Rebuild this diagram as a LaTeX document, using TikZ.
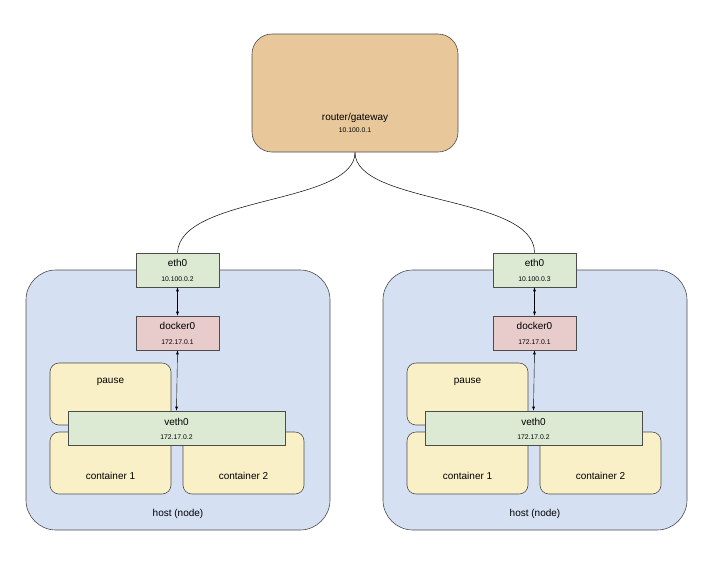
\documentclass[tikz,border=0pt]{standalone}
\usepackage{fontspec}
\setmainfont{Liberation Sans}
\begin{document}
\begin{tikzpicture}[x=1pt,y=-1pt,
 box/.style={draw=black!70,line width=0.6pt,align=center,inner sep=0pt},
 big/.style={font=\fontsize{10}{11}\selectfont},
 ip/.style={font=\fontsize{6.8}{8}\selectfont},
 arr/.style={<->,>={latex},line width=0.4pt,shorten <=0pt,shorten >=0pt}]
\definecolor{router}{HTML}{E8C89A}
\definecolor{hostc}{HTML}{D5E0F2}
\definecolor{ethc}{HTML}{DCEAD4}
\definecolor{dockc}{HTML}{E8CBCB}
\definecolor{ctc}{HTML}{FAF0C8}
\useasboundingbox (0,0) rectangle (723,566);
\node[box,fill=router,rounded corners=20pt,minimum width=206pt,minimum height=118pt] (rt) at (355,93) {};
\node[big] (rtl) at (355,118) {router/gateway};
\node[ip] (rtip) at (355,130) {10.100.0.1};
\foreach \o/\n/\e in {0/L/10.100.0.2,357/R/10.100.0.3}{
 \begin{scope}[xshift=\o]
 \node[box,fill=hostc,rounded corners=30pt,minimum width=304pt,minimum height=260pt] (host\n) at (178,400) {};
 \node[big] (hl\n) at (178,514) {host (node)};
 \node[box,fill=ctc,rounded corners=9pt,minimum width=121pt,minimum height=62pt] (pause\n) at (110.5,394) {};
 \node[big] (pl\n) at (110.5,382) {pause};
 \node[box,fill=ctc,rounded corners=9pt,minimum width=121pt,minimum height=62pt] (c1\n) at (110.5,463) {};
 \node[big] (c1l\n) at (110.5,476) {container 1};
 \node[box,fill=ctc,rounded corners=9pt,minimum width=121pt,minimum height=62pt] (c2\n) at (243.5,463) {};
 \node[big] (c2l\n) at (243.5,476) {container 2};
 \node[box,fill=ethc,minimum width=217pt,minimum height=34pt] (veth\n) at (176.5,428) {};
 \node[big] (vl\n) at (176.5,422) {veth0};
 \node[ip] (vip\n) at (176.5,437) {172.17.0.2};
 \node[box,fill=ethc,minimum width=83pt,minimum height=34pt] (eth\n) at (177.5,270) {};
 \node[big] (el\n) at (177.5,263) {eth0};
 \node[ip] (eip\n) at (177.5,279) {\e};
 \node[box,fill=dockc,minimum width=83pt,minimum height=34pt] (dock\n) at (177.5,333) {};
 \node[big] (dl\n) at (177.5,326) {docker0};
 \node[ip] (dip\n) at (177.5,342) {172.17.0.1};
 \draw[arr] (eth\n.south) -- (dock\n.north);
 \draw[arr] (dock\n.south) -- (veth\n.north);
 \end{scope}
}
\draw[line width=0.5pt] (rt.south) .. controls (355,205) and (180,195) .. (ethL.north);
\draw[line width=0.5pt] (rt.south) .. controls (355,205) and (535,195) .. (ethR.north);
\end{tikzpicture}
\end{document}
